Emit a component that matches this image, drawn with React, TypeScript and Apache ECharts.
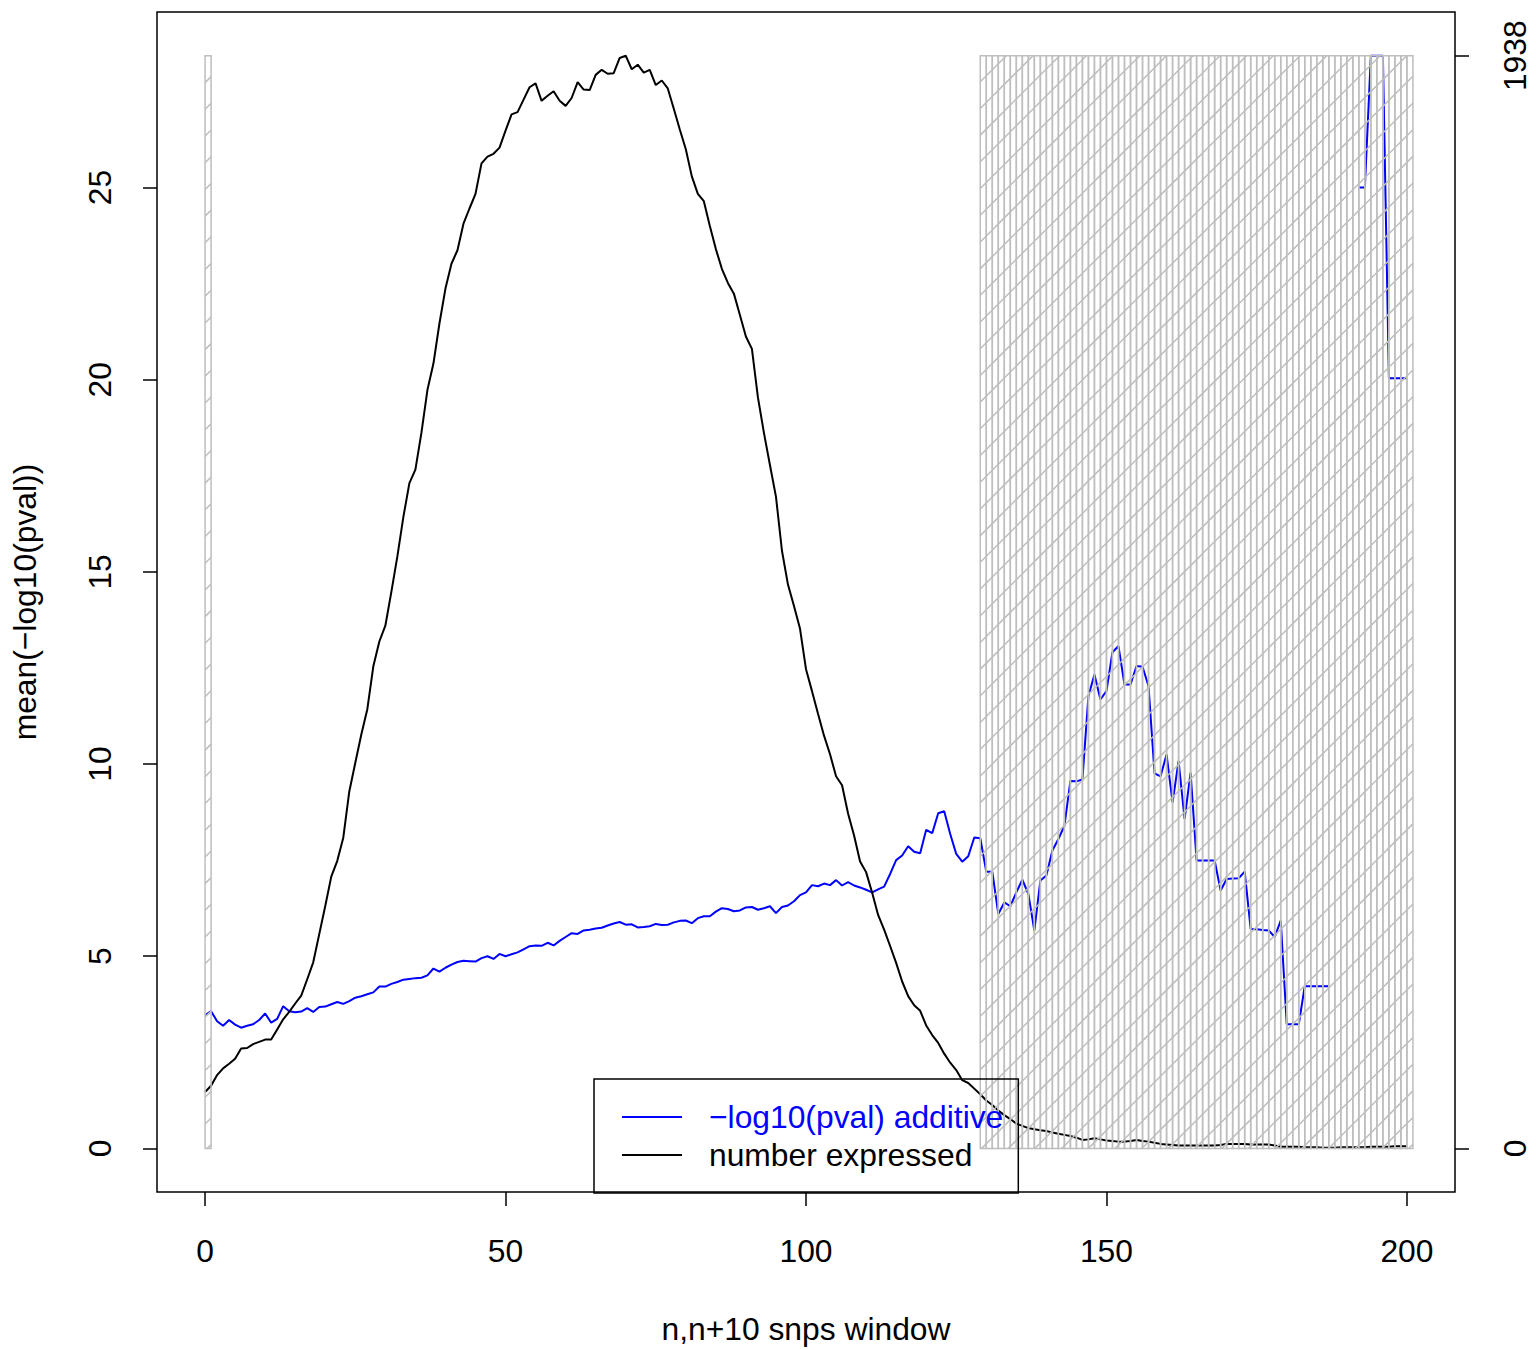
import React, { useEffect, useRef } from "react";
import * as echarts from "echarts";

// ---------- data ----------
const pvalAdditive: (number | null)[] = [
  3.46, 3.57, 3.31, 3.19, 3.34, 3.22, 3.14, 3.19, 3.23, 3.34,
  3.51, 3.27, 3.37, 3.70, 3.57, 3.54, 3.56, 3.65, 3.55, 3.68,
  3.69, 3.75, 3.81, 3.76, 3.83, 3.92, 3.96, 4.01, 4.06, 4.21,
  4.21, 4.28, 4.33, 4.39, 4.41, 4.43, 4.44, 4.50, 4.68, 4.60,
  4.70, 4.78, 4.85, 4.88, 4.87, 4.86, 4.95, 5.00, 4.93, 5.06,
  5.00, 5.05, 5.10, 5.18, 5.26, 5.28, 5.27, 5.35, 5.28, 5.40,
  5.50, 5.60, 5.58, 5.67, 5.69, 5.72, 5.74, 5.80, 5.85, 5.89,
  5.82, 5.83, 5.75, 5.76, 5.78, 5.84, 5.81, 5.82, 5.88, 5.92,
  5.93, 5.86, 5.99, 6.04, 6.04, 6.16, 6.25, 6.23, 6.17, 6.19,
  6.27, 6.28, 6.21, 6.25, 6.30, 6.12, 6.28, 6.32, 6.43, 6.59,
  6.66, 6.85, 6.82, 6.89, 6.85, 6.98, 6.84, 6.93, 6.84, 6.79,
  6.73, 6.66, 6.74, 6.81, 7.14, 7.50, 7.62, 7.86, 7.72, 7.68,
  8.29, 8.20, 8.72, 8.77, 8.18, 7.66, 7.46, 7.60, 8.09, 8.07,
  7.20, 7.20, 6.10, 6.40, 6.30, 6.66, 6.99, 6.62, 5.67, 6.97,
  7.10, 7.75, 8.05, 8.39, 9.56, 9.55, 9.60, 11.77, 12.33, 11.68,
  11.90, 12.91, 13.07, 12.07, 12.07, 12.55, 12.53, 12.03, 9.76, 9.68,
  10.25, 9.00, 10.08, 8.57, 9.78, 7.49, 7.49, 7.49, 7.49, 6.71,
  7.01, 7.02, 7.03, 7.20, 5.71, 5.70, 5.68, 5.67, 5.50, 5.93,
  3.23, 3.23, 3.23, 4.22, 4.22, 4.22, 4.22, 4.22, null, null,
  null, null, 25.0, 25.0, 28.43, 28.43, 28.43, 20.04, 20.04, 20.04,
  20.04,
];

const numberExpressed: number[] = [
  100, 111, 130, 142, 150, 159, 177, 178, 185, 189,
  193, 193, 211, 229, 242, 257, 271, 300, 330, 380,
  430, 482, 510, 551, 633, 684, 734, 779, 855, 899,
  927, 987, 1050, 1120, 1180, 1204, 1269, 1345, 1392, 1463,
  1525, 1569, 1593, 1640, 1667, 1693, 1747, 1759, 1764, 1775,
  1805, 1834, 1838, 1860, 1882, 1889, 1858, 1867, 1875, 1858,
  1849, 1863, 1891, 1878, 1877, 1904, 1913, 1906, 1907, 1934,
  1938, 1914, 1922, 1908, 1913, 1886, 1894, 1880, 1844, 1807,
  1772, 1724, 1693, 1680, 1636, 1595, 1560, 1535, 1516, 1478,
  1440, 1418, 1332, 1269, 1212, 1156, 1060, 1000, 962, 922,
  850, 811, 771, 732, 699, 660, 644, 594, 555, 509,
  490, 454, 414, 388, 359, 329, 296, 270, 254, 244,
  218, 201, 187, 168, 152, 139, 121, 116, 106, 96,
  85, 77, 67, 59, 52, 44, 40, 36, 34, 32,
  31, 28, 26, 24, 22, 19, 15, 16, 18, 16,
  14, 13, 12, 12, 13, 15, 13, 12, 10, 8,
  7, 6, 5, 5, 5, 5, 5, 5, 5, 6,
  8, 8, 8, 8, 7, 7, 7, 7, 5, 3,
  3, 3, 3, 2, 2, 2, 1, 1, 1, 2,
  2, 2, 2, 2, 3, 3, 3, 3, 4, 4,
  4,
];

// windows flagged (drawn as hatched rectangles [w, w+1])
const hatchedWindows: number[] = [
  0,
  129, 130, 131, 132, 133, 134, 135, 136, 137, 138, 139, 140,
  141, 142, 143, 144, 145, 146, 147, 148, 149, 150, 151, 152,
  153, 154, 155, 156, 157, 158, 159, 160, 161, 162, 163, 164,
  165, 166, 167, 168, 169, 170, 171, 172, 173, 174, 175, 176,
  177, 178, 179, 180, 181, 182, 183, 184, 185, 186, 187, 188,
  189, 190, 191, 192, 193, 194, 195, 196, 197, 198, 199, 200,
];

const xTicks = [0, 50, 100, 150, 200];
const yTicks = [0, 5, 10, 15, 20, 25];
const rightTicks = [0, 1938];

const seriesNames = ["\u2212log10(pval) additive", "number expressed"];
const xTitle = "n,n+10 snps window";
const yTitle = "mean(\u2212log10(pval))";

// ---------- styles ----------
const FONT = '"Liberation Sans", Arial, Helvetica, sans-serif';
const FS = 31.8;
const BLUE = "#0000ff";
const GRAY = "#bebebe";
const HATCH_SPACING = 26.7;
const HATCH_PHASE = 20.7;

const plainNumber = (v: number) => String(v);

export default function App() {
  const ref = useRef<HTMLDivElement>(null);

  useEffect(() => {
    if (!ref.current) return;
    const chart = echarts.init(ref.current, undefined, { renderer: "svg" });

    const pvals = pvalAdditive.filter((v) => v !== null) as number[];
    const yTop = Math.max(...pvals);
    const nMax = Math.max(...numberExpressed);
    const nX = pvalAdditive.length - 1;

    const blueData = pvalAdditive.map((v, i) => [i, v === null ? "-" : v]);
    const blackData = numberExpressed.map((v, i) => [i, v]);
    const hatchData = hatchedWindows.map((w) => [w, yTop]);

    const tickStyle = { color: "#000", width: 1.5 };

    const option: any = {
      animation: false,
      backgroundColor: "#ffffff",
      textStyle: { fontFamily: FONT },
      grid: {
        left: 157,
        top: 12,
        width: 1298,
        height: 1181,
        show: true,
        borderColor: "#000",
        borderWidth: 1.5,
        backgroundColor: "transparent",
      },
      xAxis: {
        type: "value",
        position: "bottom",
        min: -0.04 * nX,
        max: 1.04 * nX,
        name: xTitle,
        nameLocation: "middle",
        nameGap: 121,
        nameTextStyle: { fontSize: FS, color: "#000", fontFamily: FONT, lineHeight: FS },
        axisLine: { show: false, onZero: false },
        splitLine: { show: false },
        axisTick: {
          show: true,
          customValues: xTicks,
          length: 14,
          lineStyle: tickStyle,
        },
        axisLabel: {
          customValues: xTicks,
          formatter: plainNumber,
          fontSize: FS,
          color: "#000",
          fontFamily: FONT,
          lineHeight: FS,
          margin: 43,
        },
      },
      yAxis: [
        {
          type: "value",
          position: "left",
          min: -0.04 * yTop,
          max: 1.04 * yTop,
          name: yTitle,
          nameLocation: "middle",
          nameGap: 116,
          nameRotate: 90,
          nameTextStyle: { fontSize: FS, color: "#000", fontFamily: FONT, lineHeight: FS },
          axisLine: { show: false, onZero: false },
          splitLine: { show: false },
          axisTick: {
            show: true,
            customValues: yTicks,
            length: 14,
            lineStyle: tickStyle,
          },
          axisLabel: {
            customValues: yTicks,
            formatter: plainNumber,
            rotate: 90,
            fontSize: FS,
            color: "#000",
            fontFamily: FONT,
            lineHeight: FS,
            margin: 41,
          },
        },
        {
          type: "value",
          position: "right",
          min: -0.04 * nMax,
          max: 1.04 * nMax,
          axisLine: { show: false, onZero: false },
          splitLine: { show: false },
          axisTick: {
            show: true,
            customValues: rightTicks,
            length: 14,
            lineStyle: tickStyle,
          },
          axisLabel: {
            customValues: rightTicks,
            formatter: plainNumber,
            rotate: 90,
            fontSize: FS,
            color: "#000",
            fontFamily: FONT,
            lineHeight: FS,
            margin: 44,
          },
        },
      ],
      legend: {
        show: true,
        orient: "vertical",
        left: 594,
        top: 1079,
        padding: [22, 15, 22, 28],
        itemWidth: 60,
        itemHeight: 2,
        itemGap: 6,
        icon: "rect",
        borderColor: "#000",
        borderWidth: 1.5,
        backgroundColor: "transparent",
        selectedMode: false,
        textStyle: {
          fontSize: FS,
          fontFamily: FONT,
          lineHeight: FS,
          padding: [0, 0, 0, 22],
        },
        data: [
          { name: seriesNames[0], textStyle: { color: BLUE } },
          { name: seriesNames[1], textStyle: { color: "#000" } },
        ],
      },
      series: [
        {
          name: seriesNames[0],
          type: "line",
          xAxisIndex: 0,
          yAxisIndex: 0,
          data: blueData,
          showSymbol: false,
          connectNulls: false,
          silent: true,
          z: 2,
          itemStyle: { color: BLUE },
          lineStyle: { color: BLUE, width: 2 },
        },
        {
          name: seriesNames[1],
          type: "line",
          xAxisIndex: 0,
          yAxisIndex: 1,
          data: blackData,
          showSymbol: false,
          silent: true,
          z: 2,
          itemStyle: { color: "#000" },
          lineStyle: { color: "#000", width: 2 },
        },
        {
          name: "hatch",
          type: "custom",
          xAxisIndex: 0,
          yAxisIndex: 0,
          data: hatchData,
          encode: { x: 0, y: 1 },
          silent: true,
          clip: true,
          z: 3,
          renderItem: (params: any, api: any) => {
            const w = api.value(0);
            const top = api.value(1);
            const p0 = api.coord([w, 0]);
            const p1 = api.coord([w + 1, top]);
            const xL = p0[0];
            const xR = p1[0];
            const yB = p0[1];
            const yT = p1[1];
            const children: any[] = [
              {
                type: "rect",
                shape: { x: xL, y: yT, width: xR - xL, height: yB - yT },
                style: { fill: "none", stroke: GRAY, lineWidth: 1.5 },
              },
            ];
            const cMin = xL + yT;
            const cMax = xR + yB;
            let k = Math.ceil((cMin - HATCH_PHASE) / HATCH_SPACING);
            for (; k * HATCH_SPACING + HATCH_PHASE <= cMax; k++) {
              const c = k * HATCH_SPACING + HATCH_PHASE;
              const xa = Math.max(xL, c - yB);
              const xb = Math.min(xR, c - yT);
              if (xb > xa) {
                children.push({
                  type: "line",
                  shape: { x1: xa, y1: c - xa, x2: xb, y2: c - xb },
                  style: { stroke: GRAY, lineWidth: 1.5 },
                });
              }
            }
            return { type: "group", children };
          },
        },
      ],
    };

    chart.setOption(option);
    return () => {
      chart.dispose();
    };
  }, []);

  return (
    <div
      ref={ref}
      style={{ position: "absolute", left: 0, top: 0, width: 1536, height: 1350, background: "#fff" }}
    />
  );
}
